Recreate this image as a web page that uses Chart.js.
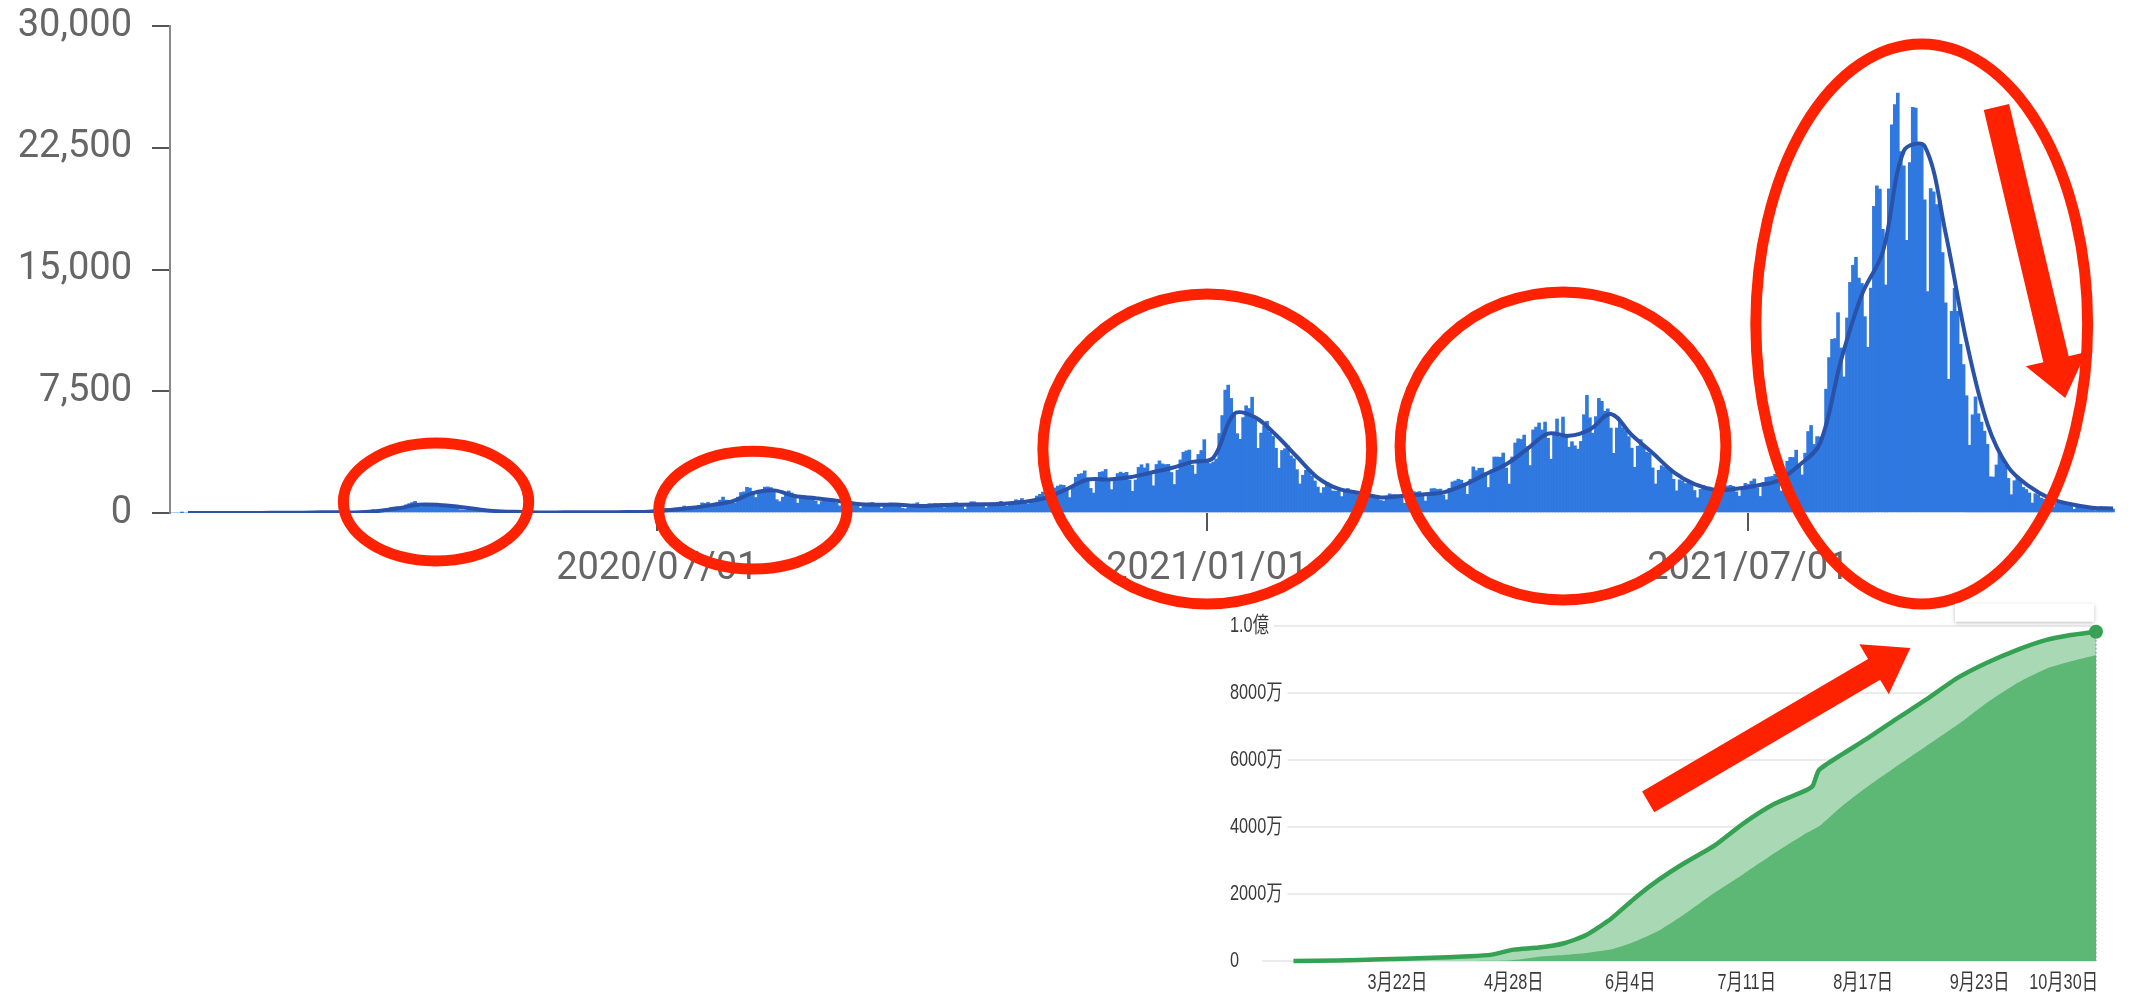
<!DOCTYPE html>
<html>
<head>
<meta charset="utf-8">
<script src="https://cdn.jsdelivr.net/npm/chart.js@4.4.0/dist/chart.umd.min.js"></script>
<style>
  html, body { margin: 0; padding: 0; background: #fff; }
  body { width: 2150px; height: 997px; position: relative; overflow: hidden; }
  #cases { position: absolute; left: 0; top: 0; }
  #vaccine { position: absolute; left: 1180px; top: 580px; }
</style>
</head>
<body>
<canvas id="cases" width="2150" height="640"></canvas>
<canvas id="vaccine" width="970" height="417"></canvas>
<script>
// daily new cases, one row per week (Mon..Sun), first day 2020/01/20
const cases2020 = [
  0,0,0,0,1,0,0, 1,1,3,4,3,0,2, 0,1,0,1,0,0,0, 0,0,1,8,8,13,5,
  7,6,4,7,12,15,5, 12,13,10,21,22,11,14, 19,15,33,25,36,59,34, 26,52,54,52,62,41,64,
  15,44,36,39,45,38,43, 39,65,96,97,123,200,173, 88,225,243,236,352,368,383,
  254,344,505,579,644,720,507, 390,457,549,585,556,568,373, 365,351,430,438,440,392,200,
  180,173,232,158,215,285,200, 87,80,123,100,82,109,57, 70,88,53,99,41,71,30,
  30,30,30,40,26,34,20, 21,31,40,36,51,52,42, 34,51,41,42,45,36,48,
  38,30,41,30,68,59,73, 72,41,43,41,68,54,56, 41,50,95,88,105,92,111,
  86,117,125,196,248,272,210, 139,206,196,360,430,383,405, 258,286,462,623,595,662,508,
  417,634,792,981,795,779,622, 600,978,1264,1302,1580,1536,1331, 955,1236,1356,1595,1605,1565,1444,
  819,705,975,1177,1358,1234,1031, 607,914,1074,1020,993,1011,733, 521,706,846,895,871,837,600,
  438,586,607,650,572,643,422, 295,507,513,627,652,532,439, 275,491,549,618,593,596,468,
  302,262,347,478,560,634,389, 295,518,570,554,581,532,385, 328,493,571,610,642,564,392,
  235,515,691,690,618,597,424, 313,589,624,613,668,718,500, 416,671,682,818,767,892,607,
  555,688,803,1045,1149,1288,1028, 946,1277,1547,1660,1733,1703,1439, 948,1699,2201,2388,2427,2596,2168,
  1517,1228,1948,2505,2550,2684,2064, 1438,2030,2431,2518,2444,2507,2029, 1335,2031,2810,2974,2778,3041,2405,
  1679,2990,3211,3026,2983,2995,2496, 1757,2640,3270,3744,3827,3881,2947, 2395,3608,3852,4520
];
const cases2021 = [
  3238,3041,3142,
  3324,4896,6004,7570,7882,7057,6096, 4888,4538,5874,6605,6438,7133,5752, 3983,4922,5360,5654,4996,4716,3990,
  2764,3853,3964,4132,3525,3342,2673, 1792,2324,2631,2575,2279,1975,1597, 1228,1567,1886,1602,1360,1349,1362,
  1012,1312,1510,1234,1304,1234,1056, 794,955,1070,1079,1052,998,776, 736,1031,1178,1136,1133,1050,1065,
  598,1126,1319,1318,1285,1320,1061, 738,1107,1496,1508,1452,1473,1118, 816,1523,1915,1978,2083,2021,1784,
  1146,2083,2843,2607,2756,2764,2467, 1571,2656,3451,3449,3433,3697,2777, 1783,3453,4312,4573,4532,4801,4093,
  2925,5120,5292,5549,5119,5603,4607, 3315,4852,5791,4681,5912,4667,4053, 4393,4138,3934,4411,6056,7244,5866,
  4917,5938,7057,6879,6265,6417,5232, 3677,5236,5701,5251,5058,4708,3995, 2818,4117,4521,4176,3754,3677,2780,
  1787,2633,2912,2814,2723,2718,2079, 1368,2044,1969,1812,1941,1899,1386, 938,1454,1694,1548,1596,1441,1303,
  890,1464,1754,1665,1709,1642,1302, 1033,1597,1822,1759,1962,2095,1556, 1022,1888,2191,2224,2253,2392,2070,
  1354,2404,3192,3427,3418,3873,2887, 2345,3688,5020,5391,4225,4706,4685, 4692,7628,9576,10699,10743,12341,10167,
  8387,12018,14207,15263,15753,14472,14140, 12095,10211,13856,18889,20151,19955,17474, 14050,19975,23917,25156,25868,22263,21381,
  16792,21579,24987,24939,22744,22749,19296, 13643,19979,19785,19000,19280,16045,12943, 8230,12429,13844,12422,10385,9138,7226,
  4171,6049,7154,6117,5599,5044,4228, 2230,2215,2960,3736,3441,2931,2129, 1128,1990,2124,1949,1575,1446,1235,
  618,1190,1118,926,848,834,629, 367,597,709,625,560,486,421, 232,380,385,369,324,345,253,
  155,257,395,294,302,273,246
];
// 7-day average, one value per week (plotted on the Sunday)
const weeklyAvg = [
  0,2,0,5,8,15,32,50,37,113,271,508,497,374,206,91,65,30,39,42,48,54,83,179,303,485,717,1227,1394,1043,
  907,754,560,509,513,425,491,514,539,575,693,937,1472,2061,2071,2200,2482,2769,3152,3399,6106,5890,4803,3465,
  2168,1479,1237,961,1047,1140,1270,1731,2381,3005,3935,4888,4753,5149,6101,4804,3692,2524,1774,1425,1489,1689,
  2006,2936,4294,9402,13463,16090,22300,22600,17239,10553,5480,2806,1635,895,538,327,275
];
const xTickDays = [163, 347, 528];
const xTickLabels = ['2020/07/01', '2021/01/01', '2021/07/01'];

// red rings: centre (day, cases) and half spans (days, cases)
const ringDays = [89, 195, 347, 466, 586];
const ringCases = [680, 180, 3940, 4130, 11640];
const ringHalfDays = [31, 31.5, 55, 54.5, 55.5];
const ringHalfCases = [3630, 3630, 9550, 9490, 17250];
const downArrow = { from: [611, 25010], to: [634, 7080] };

// vaccination, days after 2021/02/17, values in 万
const vacDays = [0,14,28,42,56,63,70,78,86,93,101,109,116,124,134,143,153,163,165,167,174,182,191,201,211,220,230,239,247,255];
const atLeastOne = [0,15,50,90,140,190,340,400,530,775,1270,1920,2420,2910,3460,4110,4700,5100,5230,5700,6150,6620,7190,7800,8450,8890,9290,9580,9730,9830];
const fullyDone = [0,0,0,0,0,5,30,130,180,240,350,600,900,1380,2050,2600,3230,3820,3920,4020,4600,5180,5770,6410,7050,7690,8300,8720,8950,9130];
const vacTickDays = [33, 70, 107, 144, 181, 218, 255];
const vacTickLabels = ['3月22日', '4月28日', '6月4日', '7月11日', '8月17日', '9月23日', '10月30日'];
const upArrow = { from: [112.7, 4750], to: [196, 9340] };

const markRed = '#fe2200';
const dailyCases = cases2020.concat(cases2021);

function drawArrow(ctx, x1, y1, x2, y2, shaft, head, headLen) {
    const a = Math.atan2(y2 - y1, x2 - x1);
    const len = Math.hypot(x2 - x1, y2 - y1);
    ctx.save();
    ctx.translate(x1, y1);
    ctx.rotate(a);
    ctx.beginPath();
    ctx.moveTo(0, -shaft / 2);
    ctx.lineTo(len - headLen, -shaft / 2);
    ctx.lineTo(len - headLen, -head / 2);
    ctx.lineTo(len, 0);
    ctx.lineTo(len - headLen, head / 2);
    ctx.lineTo(len - headLen, shaft / 2);
    ctx.lineTo(0, shaft / 2);
    ctx.closePath();
    ctx.fill();
    ctx.restore();
}

// rings + arrow on the cases chart
const ringPlugin = {
    id: 'rings',
    afterDraw(chart) {
        const { ctx, scales: { x, y } } = chart;
        ctx.save();
        ctx.strokeStyle = markRed;
        ctx.fillStyle = markRed;
        ctx.lineWidth = 11;
        ringDays.forEach((d, i) => {
            const cx = x.getPixelForValue(d);
            const cy = y.getPixelForValue(ringCases[i]);
            const rx = x.getPixelForValue(d + ringHalfDays[i]) - cx;
            const ry = cy - y.getPixelForValue(ringCases[i] + ringHalfCases[i]);
            ctx.beginPath();
            ctx.ellipse(cx, cy, rx, ry, 0, 0, Math.PI * 2);
            ctx.stroke();
        });
        drawArrow(ctx,
            x.getPixelForValue(downArrow.from[0]), y.getPixelForValue(downArrow.from[1]),
            x.getPixelForValue(downArrow.to[0]), y.getPixelForValue(downArrow.to[1]),
            26, 62, 40);
        ctx.restore();
    }
};

new Chart(document.getElementById('cases'), {
    data: {
        datasets: [
            {
                type: 'line',
                data: weeklyAvg.map((v, i) => ({ x: i * 7 + 6, y: v })),
                borderColor: '#2a52a8',
                borderWidth: 4,
                pointRadius: 0,
                tension: 0.35,
                order: 0
            },
            {
                type: 'bar',
                data: dailyCases.map((v, i) => ({ x: i, y: v })),
                backgroundColor: '#2f78e0',
                barPercentage: 1,
                categoryPercentage: 1,
                order: 1
            }
        ]
    },
    options: {
        responsive: false,
        animation: false,
        layout: { padding: { left: 0, right: 28, top: 26, bottom: 0 } },
        plugins: { legend: { display: false }, tooltip: { enabled: false } },
        scales: {
            x: {
                type: 'linear',
                min: 0,
                max: 653,
                offset: false,
                grid: { offset: false, drawOnChartArea: false, tickLength: 18, color: '#555', lineWidth: 2 },
                border: { display: false },
                ticks: {
                    autoSkip: false,
                    maxRotation: 0,
                    padding: 16,
                    color: '#666',
                    font: { family: 'Roboto', size: 38 },
                    callback: (v, i) => xTickLabels[i]
                },
                afterBuildTicks: s => { s.ticks = xTickDays.map(d => ({ value: d })); },
                afterFit: s => { s.height = 127; }
            },
            y: {
                min: 0,
                max: 30000,
                grid: { drawOnChartArea: false, tickLength: 18, color: '#555', lineWidth: 2 },
                border: { color: '#888', width: 2 },
                ticks: {
                    stepSize: 7500,
                    padding: 20,
                    color: '#666',
                    // small lineHeight keeps the label overflow from pushing the plot down
                    font: { family: 'Roboto', size: 38, lineHeight: 0.3 },
                    callback: v => v.toLocaleString('en-US')
                },
                afterFit: s => { s.width = 170; }
            }
        }
    },
    plugins: [ringPlugin]
});

const vacLabel = v => (v === 0 ? '0' : v >= 10000 ? (v / 10000).toFixed(1) + '億' : v + '万');
const squeeze = 0.74;

// narrow tick labels, tooltip box, crosshair and the red arrow on the inset
const insetPlugin = {
    id: 'insetMarks',
    afterDraw(chart) {
        const { ctx, chartArea, scales: { x, y } } = chart;
        ctx.save();
        ctx.font = "22px 'Liberation Sans', 'Noto Sans CJK JP', sans-serif";
        ctx.textBaseline = 'middle';
        y.ticks.forEach(t => {
            const py = y.getPixelForValue(t.value);
            const txt = vacLabel(t.value);
            const w = ctx.measureText(txt).width * squeeze;
            ctx.fillStyle = '#fff';
            ctx.fillRect(49, py - 3, w + 6, 6);
            ctx.save();
            ctx.translate(50, py);
            ctx.scale(squeeze, 1);
            ctx.fillStyle = '#3a3a3a';
            ctx.textAlign = 'left';
            ctx.fillText(txt, 0, 0);
            ctx.restore();
        });
        vacTickDays.forEach((d, i) => {
            const lastOne = i === vacTickDays.length - 1;
            ctx.save();
            ctx.translate(lastOne ? chartArea.right + 2 : x.getPixelForValue(d), chartArea.bottom + 22);
            ctx.scale(squeeze, 1);
            ctx.fillStyle = '#3a3a3a';
            ctx.textAlign = lastOne ? 'right' : 'center';
            ctx.fillText(vacTickLabels[i], 0, 0);
            ctx.restore();
        });
        ctx.restore();

        const meta = chart.getDatasetMeta(1);
        const last = meta.data[meta.data.length - 1];
        ctx.save();
        ctx.setLineDash([2, 2]);
        ctx.strokeStyle = '#888';
        ctx.lineWidth = 1;
        ctx.beginPath();
        ctx.moveTo(last.x, last.y);
        ctx.lineTo(last.x, chartArea.bottom);
        ctx.stroke();
        ctx.setLineDash([]);
        ctx.shadowColor = 'rgba(0,0,0,0.25)';
        ctx.shadowBlur = 4;
        ctx.shadowOffsetY = 1;
        ctx.fillStyle = '#fff';
        ctx.fillRect(last.x - 141, last.y - 28, 139, 18);
        ctx.restore();

        ctx.save();
        ctx.fillStyle = markRed;
        drawArrow(ctx,
            x.getPixelForValue(upArrow.from[0]), y.getPixelForValue(upArrow.from[1]),
            x.getPixelForValue(upArrow.to[0]), y.getPixelForValue(upArrow.to[1]),
            24, 58, 42);
        ctx.restore();
    }
};

const lastIdx = vacDays.length - 1;

new Chart(document.getElementById('vaccine'), {
    type: 'line',
    data: {
        datasets: [
            {
                data: vacDays.map((d, i) => ({ x: d, y: fullyDone[i] })),
                backgroundColor: '#5cb874',
                borderWidth: 0,
                fill: 'origin',
                pointRadius: 0,
                tension: 0.2,
                order: 0
            },
            {
                data: vacDays.map((d, i) => ({ x: d, y: atLeastOne[i] })),
                borderColor: '#34a153',
                borderWidth: 4.5,
                backgroundColor: '#a9d9b4',
                fill: 'origin',
                tension: 0.2,
                clip: false,
                pointRadius: c => (c.dataIndex === lastIdx ? 7 : 0),
                pointBackgroundColor: '#34a153',
                pointBorderWidth: 0,
                order: 1
            }
        ]
    },
    options: {
        responsive: false,
        animation: false,
        layout: { padding: { left: 50, right: 54, top: 46, bottom: 0 } },
        plugins: { legend: { display: false }, tooltip: { enabled: false } },
        scales: {
            x: {
                type: 'linear',
                min: -10,
                max: 255,
                grid: { display: false },
                border: { display: false },
                ticks: { display: false },
                afterFit: s => { s.height = 36; }
            },
            y: {
                min: 0,
                max: 10000,
                grid: { color: '#ebebeb', lineWidth: 2, drawTicks: false },
                border: { display: false },
                ticks: { stepSize: 2000, display: false },
                afterFit: s => { s.width = 32; }
            }
        }
    },
    plugins: [insetPlugin]
});
</script>
</body>
</html>
